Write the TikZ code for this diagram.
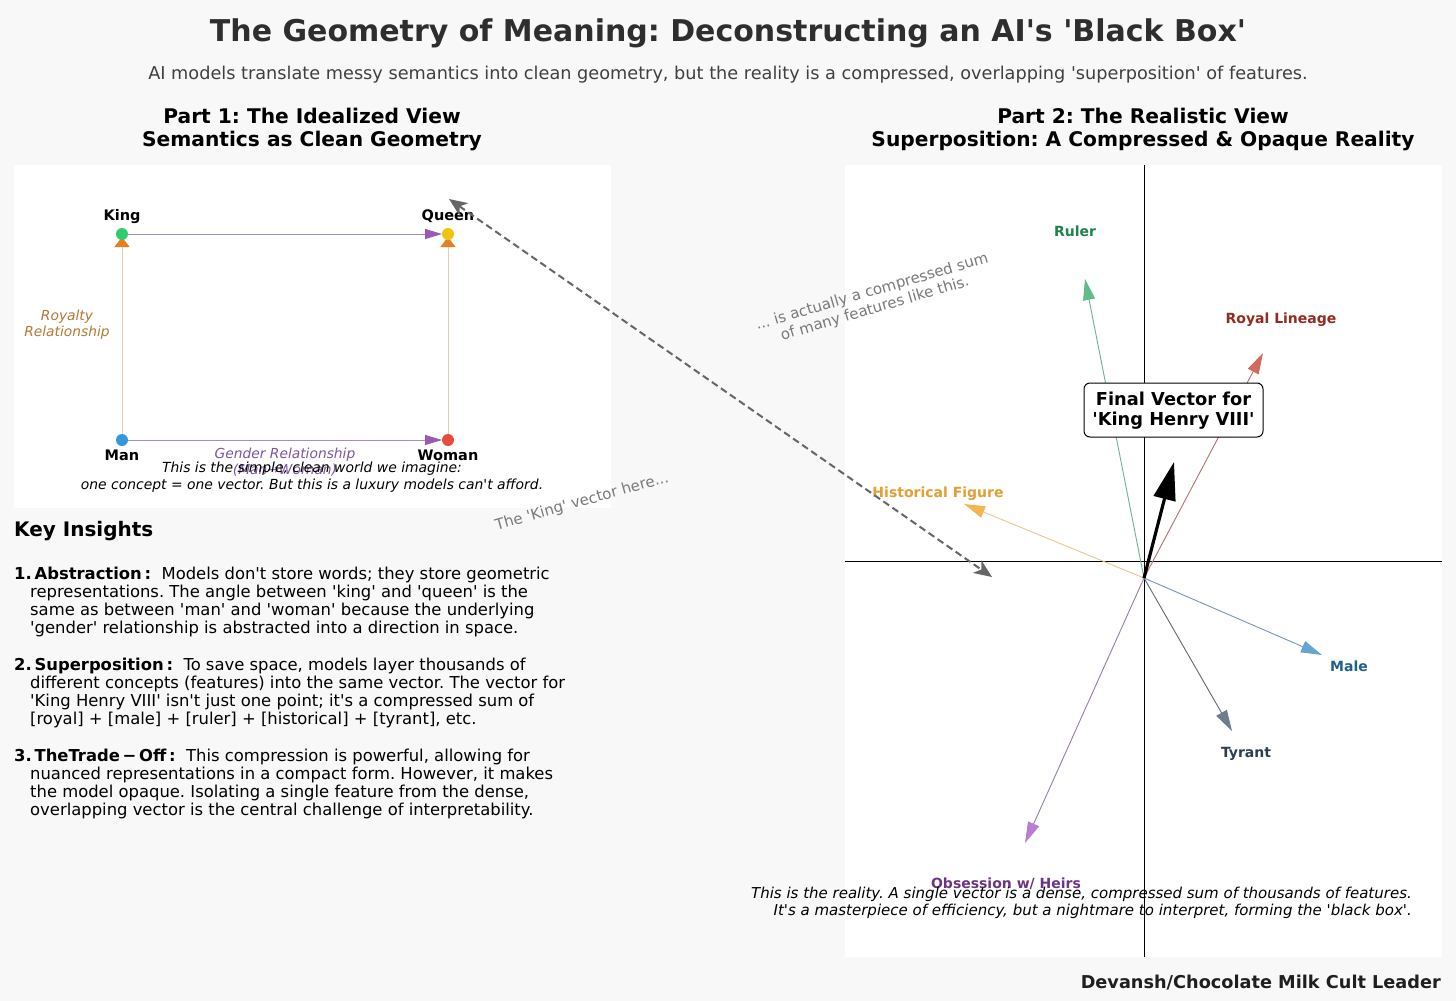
\documentclass[tikz,border=0pt]{standalone}
\usepackage{fontspec}
\setmainfont{DejaVu Sans}[Ligatures=TeXOff]
\usetikzlibrary{arrows.meta}
\definecolor{bgc}{HTML}{F8F8F8}
\definecolor{kingc}{HTML}{2ECC71}
\definecolor{queenc}{HTML}{F1C40F}
\definecolor{manc}{HTML}{3498DB}
\definecolor{womanc}{HTML}{E74C3C}
\definecolor{orangec}{HTML}{E67E22}
\definecolor{tanc}{HTML}{E6CBB2}
\definecolor{purplec}{HTML}{9B59B6}
\definecolor{plinec}{HTML}{A88CC0}
\definecolor{royc}{RGB}{180,120,50}
\definecolor{genc}{RGB}{125,85,160}
\definecolor{grayt}{HTML}{7A7A7A}
\definecolor{dashc}{HTML}{666666}
\definecolor{rulerl}{RGB}{115,175,140}
\definecolor{rulerh}{RGB}{95,190,135}
\definecolor{rulert}{HTML}{1E8449}
\definecolor{royl}{RGB}{175,115,110}
\definecolor{royh}{RGB}{210,105,95}
\definecolor{royt}{HTML}{922B21}
\definecolor{histl}{RGB}{232,200,140}
\definecolor{histh}{RGB}{245,180,80}
\definecolor{histt}{RGB}{225,160,50}
\definecolor{malel}{RGB}{115,150,185}
\definecolor{maleh}{RGB}{100,165,210}
\definecolor{malet}{HTML}{1F618D}
\definecolor{tyrl}{RGB}{95,105,115}
\definecolor{tyrh}{RGB}{110,125,140}
\definecolor{tyrt}{HTML}{2C3E50}
\definecolor{obsl}{RGB}{150,125,170}
\definecolor{obsh}{RGB}{185,125,210}
\definecolor{obst}{HTML}{6C3483}
\frenchspacing
\begin{document}
\begin{tikzpicture}[x=1pt,y=-1pt,
  txt/.style={inner sep=0pt, anchor=base},
  ttl/.style={txt, font=\fontsize{30}{36}\selectfont\bfseries, text=black!82},
  sub/.style={txt, font=\fontsize{17.7}{21}\selectfont, text=black!75},
  parthead/.style={txt, font=\fontsize{20.2}{23}\selectfont\bfseries},
  lbl/.style={txt, font=\fontsize{14.5}{17}\selectfont\bfseries},
  rel/.style={txt, font=\fontsize{13.8}{16}\selectfont\itshape},
  capt/.style={txt, font=\fontsize{13.9}{16}\selectfont\itshape},
  rot/.style={inner sep=0pt, text=grayt, font=\fontsize{15}{18}\selectfont},
  kline/.style={inner sep=0pt, anchor=base west, font=\fontsize{16.4}{18}\selectfont},
  dotn/.style={circle, inner sep=0pt, minimum size=12pt},
  hrel/.style={draw=plinec, line width=1pt, -{Triangle[length=17pt,width=10pt,color=purplec]}},
  vrel/.style={draw=tanc, line width=1pt, -{Triangle[length=10pt,width=15pt,color=orangec]}},
  feat/.style={line width=0.9pt},
  fhead/.style={-{Triangle[length=21pt,width=12pt,color=#1]}},
  flbl/.style={txt, font=\fontsize{14}{17}\selectfont\bfseries},
]
\useasboundingbox (0,0) rectangle (1456,1001);
\fill[bgc] (0,0) rectangle (1456,1001);
\fill[white] (14,165) rectangle (611,508);
\fill[white] (845,165) rectangle (1442,957);

% titles
\node[ttl] (title) at (728,41) {The Geometry of Meaning: Deconstructing an AI's 'Black Box'};
\node[sub] (subtitle) at (728,79.5) {AI models translate messy semantics into clean geometry, but the reality is a compressed, overlapping 'superposition' of features.};
\node[parthead] (p1a) at (312,123) {Part 1: The Idealized View};
\node[parthead] (p1b) at (312,146) {Semantics as Clean Geometry};
\node[parthead] (p2a) at (1143,123) {Part 2: The Realistic View};
\node[parthead] (p2b) at (1143,146) {Superposition: A Compressed \& Opaque Reality};

% Part 1
\coordinate (K) at (122,234);
\coordinate (Q) at (448,234);
\coordinate (M) at (122,440);
\coordinate (W) at (448,440);
\draw[vrel, shorten >=3pt] (M) -- (K);
\draw[vrel, shorten >=3pt] (W) -- (Q);
\draw[hrel, shorten >=6pt] (K) -- (Q);
\draw[hrel, shorten >=6pt] (M) -- (W);
\node[dotn, fill=kingc] (king) at (K) {};
\node[dotn, fill=queenc] (queen) at (Q) {};
\node[dotn, fill=manc] (man) at (M) {};
\node[dotn, fill=womanc] (woman) at (W) {};
\node[lbl] (kingl) at (122,220) {King};
\node[lbl] (queenl) at (448,220) {Queen};
\node[lbl] (manl) at (122,460) {Man};
\node[lbl] (womanl) at (448,460) {Woman};
\node[rel, text=royc] (royrel1) at (67,320) {Royalty};
\node[rel, text=royc] (royrel2) at (67,336) {Relationship};
\node[rel, text=genc] (genrel1) at (285,458) {Gender Relationship};
\node[rel, text=genc] (genrel2) at (285,474) {(Man→Woman)};
\node[capt] (cap1a) at (312,472.5) {This is the simple, clean world we imagine:};
\node[capt] (cap1b) at (312,489) {one concept = one vector. But this is a luxury models can't afford.};

% Key insights
\node[inner sep=0pt, anchor=base west, font=\fontsize{20}{24}\selectfont\bfseries] (kih) at (14,536.5) {Key Insights};
\node[kline] (a1) at (14,579) {\textbf{1.\,Abstraction\,:}\ \ Models don't store words; they store geometric};
\node[kline] (a2) at (30,597.2) {representations. The angle between 'king' and 'queen' is the};
\node[kline] (a3) at (30,615.4) {same as between 'man' and 'woman' because the underlying};
\node[kline] (a4) at (30,633.6) {'gender' relationship is abstracted into a direction in space.};
\node[kline] (b1) at (14,670.3) {\textbf{2.\,Superposition\,:}\ \ To save space, models layer thousands of};
\node[kline] (b2) at (30,688.5) {different concepts (features) into the same vector. The vector for};
\node[kline] (b3) at (30,706.7) {'King Henry VIII' isn't just one point; it's a compressed sum of};
\node[kline] (b4) at (30,724.9) {[royal] + [male] + [ruler] + [historical] + [tyrant], etc.};
\node[kline] (c1) at (14,761.3) {\textbf{3.\,TheTrade\,−\,Off\,:}\ \ This compression is powerful, allowing for};
\node[kline] (c2) at (30,779.5) {nuanced representations in a compact form. However, it makes};
\node[kline] (c3) at (30,797.7) {the model opaque. Isolating a single feature from the dense,};
\node[kline] (c4) at (30,815.9) {overlapping vector is the central challenge of interpretability.};

% Part 2 axes
\coordinate (axT) at (1144,165);
\coordinate (axB) at (1144,957);
\coordinate (axL) at (845,561);
\coordinate (axR) at (1442,561);
\draw[black, line width=0.9pt] (axT) -- (axB);
\draw[black, line width=0.9pt] (axL) -- (axR);

\coordinate (O) at (1144,578);
\coordinate (tRuler) at (1085,279);
\coordinate (tRoyal) at (1263,353);
\coordinate (tHist) at (964,504);
\coordinate (tMale) at (1322,655);
\coordinate (tTyr) at (1232,731);
\coordinate (tObs) at (1025,843);
\coordinate (tFinal) at (1174,462);

\draw[feat, draw=rulerl, fhead=rulerh] (O) -- (tRuler);
\draw[feat, draw=royl, fhead=royh] (O) -- (tRoyal);
\draw[feat, draw=histl, fhead=histh] (O) -- (tHist);
\draw[feat, draw=malel, fhead=maleh] (O) -- (tMale);
\draw[feat, draw=tyrl, fhead=tyrh] (O) -- (tTyr);
\draw[feat, draw=obsl, fhead=obsh] (O) -- (tObs);
\draw[black, line width=3.2pt, -{Triangle[length=38pt,width=22pt]}] (O) -- (tFinal);

\node[flbl, text=rulert] (rulerl) at (1075,236.5) {Ruler};
\node[flbl, text=royt] (royall) at (1281,323) {Royal Lineage};
\node[flbl, text=histt] (histl) at (938,497) {Historical Figure};
\node[flbl, text=malet] (malel) at (1349,671) {Male};
\node[flbl, text=tyrt] (tyrl) at (1246,757) {Tyrant};
\node[flbl, text=obst] (obsl) at (1006,888) {Obsession w/ Heirs};

\node[draw=black, fill=white, rounded corners=6pt, line width=1pt, minimum width=179pt, minimum height=54pt, inner sep=0pt] (final) at (1173.5,410) {};
\node[txt, font=\fontsize{17.8}{21}\selectfont\bfseries] (finalA) at (1173.5,405) {Final Vector for};
\node[txt, font=\fontsize{17.8}{21}\selectfont\bfseries] (finalB) at (1173.5,425) {'King Henry VIII'};

\node[capt, anchor=base east, font=\fontsize{15}{17}\selectfont\itshape] (cap2a) at (1412,898) {This is the reality. A single vector is a dense, compressed sum of thousands of features.};
\node[capt, anchor=base east, font=\fontsize{15}{17}\selectfont\itshape] (cap2b) at (1412,915) {It's a masterpiece of efficiency, but a nightmare to interpret, forming the 'black box'.};

% rotated annotations
\node[rot, rotate=15.6] (kingvec) at (582,502) {The 'King' vector here...};
\node[rot, rotate=16.3] (compa) at (872,292) {... is actually a compressed sum};
\node[rot, rotate=16.3] (compb) at (875,309) {of many features like this.};

% dashed double arrow
\coordinate (dA) at (449,199);
\coordinate (dB) at (992,577);
\draw[dashc, line width=2pt, dash pattern=on 7pt off 4pt, {Stealth[length=18pt,width=15pt,inset=5pt]}-{Stealth[length=18pt,width=15pt,inset=5pt]}] (dA) -- (dB);

% footer
\node[txt, anchor=base east, font=\fontsize{17.7}{21}\selectfont\bfseries, text=black!88] (footer) at (1441,988) {Devansh/Chocolate Milk Cult Leader};
\end{tikzpicture}
\end{document}
